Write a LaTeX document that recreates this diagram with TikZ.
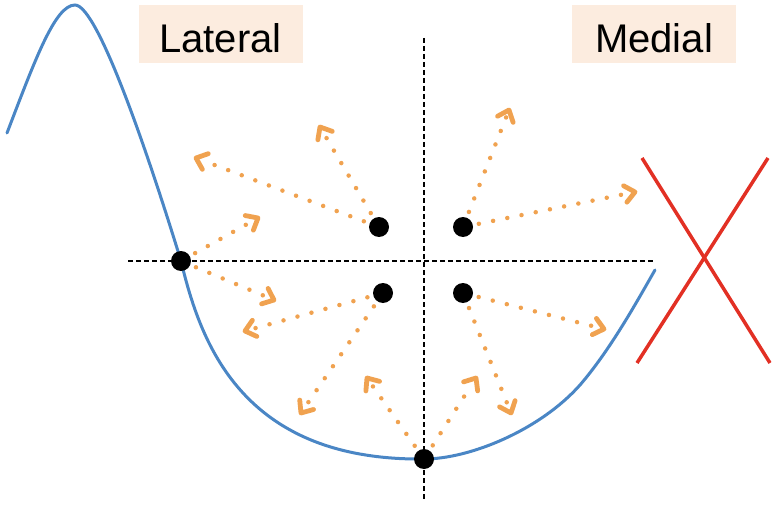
\documentclass[tikz,border=0pt]{standalone}
\usepackage{fontspec}
\setmainfont{Liberation Sans}
\usetikzlibrary{calc}
\definecolor{peach}{RGB}{252,236,223}
\definecolor{curveblue}{RGB}{74,134,197}
\definecolor{arrorange}{RGB}{240,162,80}
\definecolor{xred}{RGB}{226,48,36}
\tikzset{
  x=1pt, y=-1pt,
  dotnode/.style={circle, fill=black, minimum size=20pt, inner sep=0pt},
  labelbox/.style={fill=peach, minimum width=164pt, minimum height=58pt, inner sep=0pt},
  guide/.style={black, line width=1.2pt, dash pattern=on 5pt off 3pt},
  motion/.style={arrorange, line width=4.5pt, line cap=round, dash pattern=on 0pt off 14.5pt,
    shorten <=6pt, shorten >=8pt},
  motiontip/.style={arrorange, line width=4.8pt, line cap=round, line join=round},
  cross/.style={xred, line width=3.5pt}
}
\begin{document}
\begin{tikzpicture}
\useasboundingbox (0,0) rectangle (774,508);
% label boxes
\node[labelbox] (latbox) at (220.5,34) {};
\node[labelbox] (medbox) at (654,34) {};
\node[anchor=base, font=\fontsize{40}{40}\selectfont] (lat) at (220.5,53) {Lateral};
\node[anchor=base, font=\fontsize{40}{40}\selectfont] (med) at (654,53) {Medial};
% guide lines
\coordinate (vt) at (424,38);
\coordinate (vb) at (424,500);
\coordinate (hl) at (128,261);
\coordinate (hr) at (655,261);
\draw[guide] (vt) -- (vb);
\draw[guide] (hl) -- (hr);
% curve
\draw[curveblue, line width=3pt, line cap=round]
  (7,133) .. controls (35,60) and (55,5) .. (75,5)
  .. controls (98,5) and (150,160) .. (181,261)
  .. controls (200,340) and (240,461) .. (424,459)
  .. controls (470,459) and (540,430) .. (580,385)
  .. controls (610,350) and (635,305) .. (655,270);
% red cross
\coordinate (xa) at (642,158);
\coordinate (xb) at (770,363);
\coordinate (xc) at (768,158);
\coordinate (xd) at (637,363);
\draw[cross] (xa) -- (xb);
\draw[cross] (xc) -- (xd);
% dots
\node[dotnode] (p1) at (181,261) {};
\node[dotnode] (p2) at (379,227) {};
\node[dotnode] (p3) at (463,227) {};
\node[dotnode] (p4) at (383,293) {};
\node[dotnode] (p5) at (463,293) {};
\node[dotnode] (p6) at (424,459) {};
% arrow tips
\coordinate (t1a) at (258,218);
\coordinate (t1b) at (274,300);
\coordinate (t2a) at (196,158);
\coordinate (t2b) at (320,127);
\coordinate (t3a) at (509,110);
\coordinate (t3b) at (635,192);
\coordinate (t4a) at (245,331);
\coordinate (t4b) at (301,413);
\coordinate (t5a) at (604,329);
\coordinate (t5b) at (511,413);
\coordinate (t6a) at (367,378);
\coordinate (t6b) at (476,378);
\foreach \s/\t in {p1/t1a,p1/t1b,p2/t2a,p2/t2b,p3/t3a,p3/t3b,p4/t4a,p4/t4b,p5/t5a,p5/t5b,p6/t6a,p6/t6b}{
  \draw[motion] (\s) -- (\t);
  \draw[motiontip] ($(\t)!13pt!40:(\s)$) -- (\t) -- ($(\t)!13pt!-40:(\s)$);
}
\end{tikzpicture}
\end{document}
